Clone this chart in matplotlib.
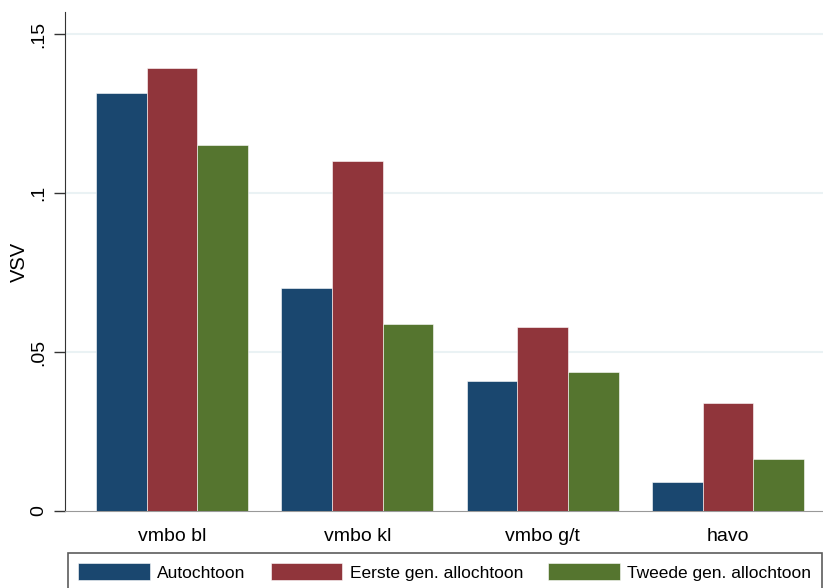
import matplotlib
matplotlib.use('Agg')
import matplotlib.pyplot as plt
import numpy as np

plt.rcParams['font.family'] = ['Liberation Sans', 'DejaVu Sans']

# Data
categories = ['vmbo bl', 'vmbo kl', 'vmbo g/t', 'havo']
series_names = ['Autochtoon', 'Eerste gen. allochtoon', 'Tweede gen. allochtoon']
autochtoon = [0.1314, 0.0701, 0.0409, 0.0091]
eerste_gen = [0.1393, 0.1101, 0.0579, 0.0340]
tweede_gen = [0.1151, 0.0588, 0.0437, 0.0164]
yticks = [0, 0.05, 0.1, 0.15]
ytick_labels = ['0', '.05', '.1', '.15']

colors = ['#1a476f', '#90353b', '#55752f']

fig = plt.figure(figsize=(8.23, 5.88), dpi=100)
ax = fig.add_axes([65 / 823, 1 - 511 / 588, 1 - 65 / 823, (511 - 12) / 588])

x = np.arange(len(categories))
width = 0.273
for i, (vals, name) in enumerate(zip([autochtoon, eerste_gen, tweede_gen], series_names)):
    ax.bar(x + (i - 1) * width, vals, width, color=colors[i], label=name,
           edgecolor='white', linewidth=0.4, zorder=3)

ax.set_xlim(-0.577, 3.512)
ax.set_ylim(0, 0.157)
ax.set_xticks(x)
ax.set_xticklabels(categories, fontsize=14)
ax.tick_params(axis='x', length=0, pad=12)
ax.set_yticks(yticks)
ax.set_yticklabels(ytick_labels, rotation=90, va='center', fontsize=14)
ax.tick_params(axis='y', length=8, width=1, color='#333333', pad=5)
ax.set_ylabel('VSV', fontsize=14.5)
ax.yaxis.set_label_coords(-0.048, 0.5)

for yv in yticks[1:]:
    ax.axhline(yv, color='#eaf2f4', linewidth=1.5, zorder=1)

ax.spines['top'].set_visible(False)
ax.spines['right'].set_visible(False)
ax.spines['left'].set_color('#333333')
ax.spines['bottom'].set_color('#999999')

leg = fig.legend(loc='upper left', bbox_to_anchor=(68 / 823, 1 - 553 / 588),
                 ncol=3, fontsize=12.5, frameon=True, fancybox=False,
                 handlelength=4.1, handleheight=1.1, handletextpad=0.45,
                 columnspacing=1.45, borderpad=0.6, borderaxespad=0)
leg.get_frame().set_edgecolor('#333333')
leg.get_frame().set_linewidth(1.2)

fig.savefig('out.png', dpi=100)
